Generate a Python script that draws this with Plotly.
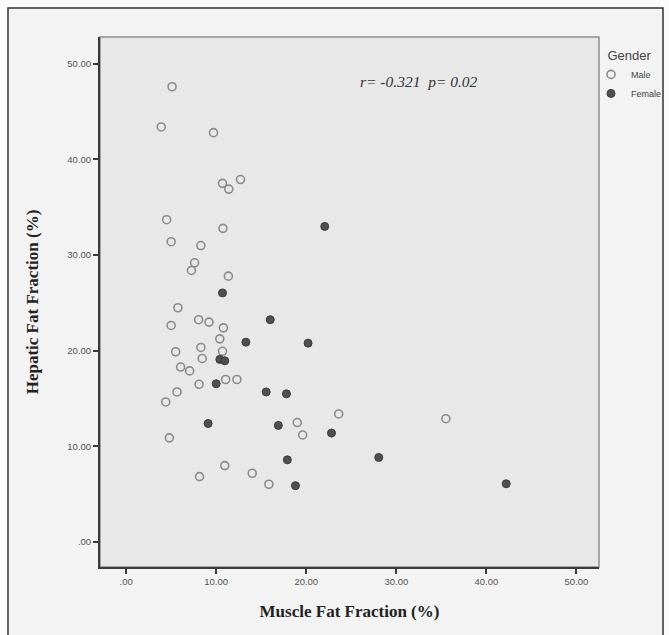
import plotly.graph_objects as go

# ---- data ----
male_x = [5.1, 3.9, 9.7, 10.7, 12.7, 11.4, 4.5, 10.75, 5.0, 8.3, 7.25, 7.6, 11.35,
          5.75, 8.05, 9.2, 5.0, 10.8, 10.4, 5.5, 8.3, 10.7, 8.45, 6.05, 7.05, 8.1,
          11.05, 12.3, 5.65, 4.4, 23.6, 35.5, 19.0, 19.6, 4.8, 10.95, 8.15, 14.0, 15.85]
male_y = [47.6, 43.4, 42.8, 37.5, 37.9, 36.9, 33.7, 32.8, 31.4, 31.0, 28.4, 29.2, 27.8,
          24.5, 23.25, 23.0, 22.65, 22.4, 21.25, 19.9, 20.35, 19.95, 19.2, 18.3, 17.9, 16.5,
          17.0, 17.0, 15.7, 14.65, 13.4, 12.9, 12.5, 11.2, 10.9, 8.0, 6.85, 7.2, 6.05]

female_x = [22.05, 10.7, 16.0, 13.3, 20.2, 10.4, 10.95, 10.0, 15.55, 17.8, 9.1, 16.9,
            22.8, 17.9, 28.05, 18.8, 42.2]
female_y = [33.0, 26.05, 23.25, 20.9, 20.8, 19.1, 18.95, 16.55, 15.7, 15.5, 12.4, 12.2,
            11.4, 8.6, 8.85, 5.9, 6.1]

tick_vals = [0, 10, 20, 30, 40, 50]
tick_text = [".00", "10.00", "20.00", "30.00", "40.00", "50.00"]

x_title = "Muscle Fat Fraction (%)"
y_title = "Hepatic Fat Fraction (%)"
legend_title = "Gender"
stat_text = "r= -0.321  p= 0.02"

# ---- figure ----
fig = go.Figure()
fig.add_trace(go.Scatter(
    x=male_x, y=male_y, mode="markers", name="Male",
    marker=dict(symbol="circle-open", size=8, color="#8a8a8a", line=dict(width=1.6)),
))
fig.add_trace(go.Scatter(
    x=female_x, y=female_y, mode="markers", name="Female",
    marker=dict(symbol="circle", size=8, color="#4f4f4f", line=dict(color="#3c3c3c", width=1)),
))

tickfont = dict(family="Liberation Sans, Arial, sans-serif", size=9.5, color="#555555")
titlefont = dict(family="Liberation Serif, Times New Roman, serif", size=17, color="#222222")

fig.update_xaxes(
    range=[-2.9, 52.5], tickvals=tick_vals, ticktext=tick_text, tickfont=tickfont,
    showgrid=False, zeroline=False, showline=True, linecolor="#3a3a3a", linewidth=2,
    ticks="outside", ticklen=5, tickcolor="#3a3a3a", tickwidth=1.5,
    title=dict(text="<b>" + x_title + "</b>", font=titlefont, standoff=19),
)
fig.update_yaxes(
    range=[-2.6, 52.8], tickvals=tick_vals, ticktext=tick_text, tickfont=tickfont,
    showgrid=False, zeroline=False, showline=True, linecolor="#3a3a3a", linewidth=2,
    ticks="outside", ticklen=5, tickcolor="#3a3a3a", tickwidth=1.5,
    title=dict(text="<b>" + y_title + "</b>", font=titlefont, standoff=24),
)

L, R, T, B = 100, 70, 37, 68
W, H = 669, 635
pw, ph = W - L - R, H - T - B

def px_x(p):
    return (p - L) / pw

def px_y(p):
    return (H - B - p) / ph

fig.update_layout(
    width=W, height=H,
    margin=dict(l=L, r=R, t=T, b=B, autoexpand=False),
    paper_bgcolor="#fbfbfb", plot_bgcolor="#e8e8e8",
    showlegend=True,
    legend=dict(
        title=dict(text="\u00a0\u00a0\u00a0\u00a0" + legend_title,
                   font=dict(family="Liberation Sans, Arial, sans-serif", size=13, color="#444444")),
        font=dict(family="Liberation Sans, Arial, sans-serif", size=9, color="#444444"),
        x=px_x(591), xanchor="left", y=px_y(43), yanchor="top",
        bgcolor="rgba(0,0,0,0)", itemwidth=30, tracegroupgap=0,
    ),
    shapes=[
        # outer chart frame
        dict(type="rect", xref="paper", yref="paper", layer="below",
             x0=px_x(8), x1=px_x(663), y0=px_y(645), y1=px_y(8),
             line=dict(color="#333333", width=1.5), fillcolor="#f3f3f3"),
        # plot area panel with light border
        dict(type="rect", xref="paper", yref="paper", layer="below",
             x0=0, x1=1, y0=0, y1=1,
             line=dict(color="#8f8f8f", width=1.5), fillcolor="#e8e8e8"),
    ],
    annotations=[
        dict(text="<i>" + stat_text + "</i>", xref="paper", yref="paper",
             x=px_x(419), y=px_y(81), xanchor="center", yanchor="middle",
             showarrow=False,
             font=dict(family="Liberation Serif, Times New Roman, serif", size=15.5, color="#333333")),
    ],
)

fig.write_html("out.html",
               config={"displayModeBar": False},
               post_script="document.body.style.margin='0px';document.body.style.padding='0px';")
